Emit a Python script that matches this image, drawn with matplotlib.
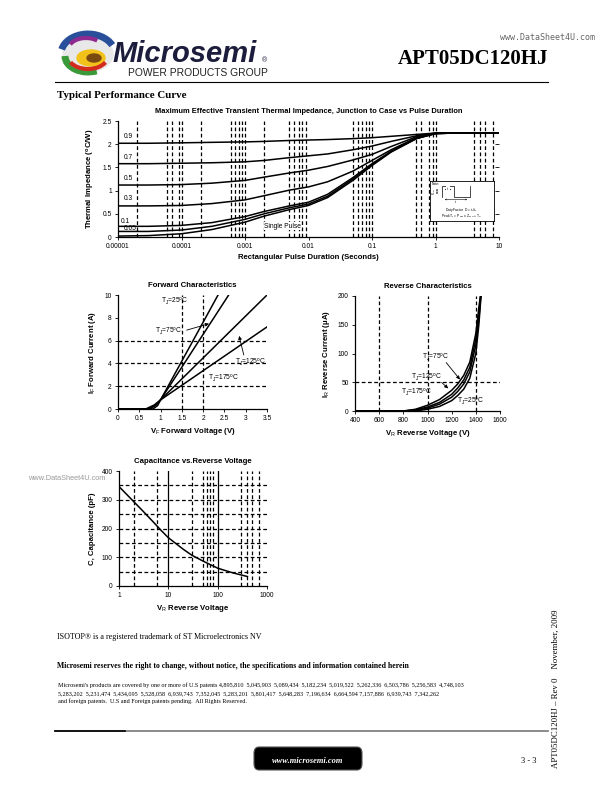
import numpy as np
import matplotlib
matplotlib.use("Agg")
import matplotlib.pyplot as plt
from matplotlib.patches import Arc, FancyBboxPatch, Ellipse

plt.rcParams['font.family'] = ['Liberation Sans', 'DejaVu Sans']
plt.rcParams['mathtext.fontset'] = 'custom'
plt.rcParams['mathtext.rm'] = 'Liberation Sans'
plt.rcParams['mathtext.it'] = 'Liberation Sans'
plt.rcParams['mathtext.bf'] = 'Liberation Sans:bold'

# ---- transient thermal impedance data ----
pulse_t = [1e-5, 3e-5, 1e-4, 3e-4, 1e-3, 2e-3, 5e-3, 1e-2, 2e-2, 5e-2, 0.1, 0.2, 0.5, 1, 2, 10]
zth = {
    "0.9":  [2.02, 2.02, 2.03, 2.04, 2.05, 2.06, 2.08, 2.09, 2.10, 2.12, 2.14, 2.17, 2.21, 2.24, 2.24, 2.24],
    "0.7":  [1.58, 1.58, 1.59, 1.60, 1.62, 1.65, 1.71, 1.75, 1.79, 1.88, 1.96, 2.06, 2.18, 2.24, 2.24, 2.24],
    "0.5":  [1.12, 1.12, 1.13, 1.16, 1.22, 1.29, 1.38, 1.44, 1.52, 1.66, 1.78, 1.95, 2.16, 2.24, 2.24, 2.24],
    "0.3":  [0.67, 0.67, 0.68, 0.72, 0.80, 0.89, 1.01, 1.08, 1.19, 1.42, 1.65, 1.88, 2.14, 2.23, 2.24, 2.24],
    "0.1":  [0.23, 0.23, 0.25, 0.31, 0.44, 0.55, 0.67, 0.75, 0.92, 1.28, 1.58, 1.85, 2.13, 2.23, 2.24, 2.24],
    "0.05": [0.12, 0.12, 0.15, 0.23, 0.38, 0.50, 0.63, 0.71, 0.88, 1.25, 1.56, 1.84, 2.12, 2.23, 2.24, 2.24],
    "single": [0.02, 0.03, 0.07, 0.16, 0.32, 0.45, 0.59, 0.68, 0.85, 1.22, 1.54, 1.83, 2.12, 2.23, 2.24, 2.24],
}
zth_labels = ["0.9", "0.7", "0.5", "0.3", "0.1", "0.05"]
zth_label_y = [2.16, 1.72, 1.26, 0.82, 0.33, 0.19]
zth_grid = [2e-5, 6e-5, 7e-5, 9e-5, 1e-4, 2e-4, 6e-4, 7e-4, 8e-4, 9e-4, 1e-3, 2e-3,
            5e-3, 6e-3, 7e-3, 8e-3, 9e-3, 0.05, 0.06, 0.07, 0.08, 0.09, 0.1,
            0.5, 0.6, 0.8, 0.9, 1, 4, 5, 6, 8]
zth_xticks = [1e-5, 1e-4, 1e-3, 1e-2, 1e-1, 1, 10]
zth_xticklabels = ["0.00001", "0.0001", "0.001", "0.01", "0.1", "1", "10"]

# ---- forward characteristics ----
vf = {
    "25":  [0, 0.82, 0.93, 1.0, 2.35],
    "75":  [0, 0.75, 0.90, 1.0, 2.60],
    "125": [0, 0.70, 0.88, 1.0, 3.50],
    "175": [0, 0.65, 0.85, 1.0, 3.50],
}
i_f = {
    "25":  [0, 0, 0.30, 0.8, 10],
    "75":  [0, 0, 0.35, 0.8, 10],
    "125": [0, 0, 0.35, 0.8, 10],
    "175": [0, 0, 0.35, 0.8, 7.2],
}

# ---- reverse characteristics ----
vr = [400, 800, 900, 1000, 1100, 1200, 1250, 1300, 1350, 1400, 1425, 1450]
ir = {
    "175": [0, 0, 3, 10, 20, 36, 47, 62, 85, 135, 180, 220],
    "125": [0, 0, 2, 7, 15, 29, 40, 54, 76, 125, 170, 220],
    "75":  [0, 0, 1, 5, 12, 24, 34, 47, 68, 115, 160, 220],
    "25":  [0, 0, 0, 3, 8, 18, 27, 38, 57, 100, 150, 220],
}

# ---- capacitance ----
cap_v = [1, 2, 3, 5, 7, 10, 20, 30, 50, 100, 200, 400]
cap_c = [346, 293, 262, 222, 195, 168, 128, 107, 87, 62, 46, 33]
cap_grid = [2, 6, 30, 50, 60, 70, 80, 300, 400, 500, 700]

W, H = 612, 792
fig = plt.figure(figsize=(6.12, 7.92), dpi=100)


def box(l, t, r, b):
    return [l / W, 1 - b / H, (r - l) / W, (b - t) / H]


def ftext(x, y, s, **kw):
    return fig.text(x / W, 1 - y / H, s, **kw)


DASH = (0, (3, 2))
TICK = 4.8
LAB = 5.6


def style(ax):
    ax.spines['top'].set_visible(False)
    ax.spines['right'].set_visible(False)
    ax.tick_params(labelsize=TICK, length=2.5, width=0.6, pad=2)
    for s in ('left', 'bottom'):
        ax.spines[s].set_linewidth(0.9)


# ---------------- header ----------------
lg = fig.add_axes(box(58, 28, 118, 80))
lg.set_xlim(0, 60)
lg.set_ylim(0, 52)
lg.axis('off')
lg.add_patch(Ellipse((30, 26), 50, 36, color='#e8e8e8'))
lg.add_patch(Arc((30, 26), 54, 40, theta1=20, theta2=170, lw=5, color='#2a4f9a'))
lg.add_patch(Arc((30, 24), 46, 32, theta1=180, theta2=300, lw=5, color='#3a9a3a'))
lg.add_patch(Ellipse((33, 22), 28, 16, color='#f2c21a'))
lg.add_patch(Arc((30, 24), 40, 26, theta1=200, theta2=340, lw=3, color='#d42a1e'))
lg.add_patch(Arc((28, 30), 36, 24, theta1=40, theta2=160, lw=3, color='#8e2a90'))
lg.add_patch(Ellipse((36, 22), 14, 8, color='#7a4a10'))

ftext(112, 62, "Microsemi", fontsize=21, fontweight='bold', fontstyle='italic',
      color='#1c1c3c', va='baseline')
ftext(262, 62, "®", fontsize=5, color='#1c1c3c', va='baseline')
ftext(128, 76, "POWER PRODUCTS GROUP", fontsize=7.4, color='#222222', va='baseline')
ftext(595, 40, "www.DataSheet4U.com", fontsize=6, color='#666666', ha='right',
      va='baseline', family='DejaVu Sans Mono')
ftext(548, 64, "APT05DC120HJ", fontsize=15, fontweight='bold', family='Liberation Serif',
      ha='right', va='baseline')
fig.add_artist(plt.Line2D([55 / W, 548 / W], [1 - 82 / H] * 2, color='black', lw=0.8))
ftext(57, 98, "Typical Performance Curve", fontsize=7.8, fontweight='bold',
      family='Liberation Serif', va='baseline')

# ---------------- transient thermal impedance ----------------
ax = fig.add_axes(box(118, 121, 499, 237))
for g in zth_grid:
    ax.axvline(g, color='black', lw=0.9, ls=DASH, zorder=1)
for k in zth:
    ax.plot(pulse_t, zth[k], color='black', lw=1.1, zorder=3)
ax.set_xscale('log')
ax.set_xlim(1e-5, 10)
ax.set_ylim(0, 2.5)
ax.set_xticks(zth_xticks)
ax.set_xticklabels(zth_xticklabels)
ax.minorticks_off()
ax.set_yticks([0, 0.5, 1, 1.5, 2, 2.5])
ax.set_yticklabels(["0", "0.5", "1", "1.5", "2", "2.5"])
style(ax)
sec = ax.secondary_yaxis('right')
sec.set_yticks([0.5, 1, 1.5, 2])
sec.tick_params(direction='in', length=3, width=0.6, labelright=False)
sec.spines['right'].set_visible(False)
for lab, yy in zip(zth_labels, zth_label_y):
    ax.text(1.25e-5 if lab != "0.1" else 1.1e-5, yy, lab, fontsize=TICK, va='center', zorder=4)
ax.text(2.0e-3, 0.23, "Single Pulse", fontsize=TICK, va='center', zorder=4,
        bbox=dict(fc='white', ec='none', pad=0.3))
ax.set_title("Maximum Effective Transient Thermal Impedance, Junction to Case vs Pulse Duration",
             fontsize=5.4, fontweight='bold', pad=6)
ax.set_xlabel("Rectangular Pulse Duration (Seconds)", fontsize=LAB, fontweight='bold', labelpad=3)
ax.set_ylabel("Thermal Impedance ($\\mathbf{^oC/W}$)", fontsize=LAB, fontweight='bold', labelpad=4)

# note inset
nx = fig.add_axes(box(430, 181, 494, 221))
nx.set_xlim(0, 64)
nx.set_ylim(40, 0)
nx.set_xticks([])
nx.set_yticks([])
for s in nx.spines.values():
    s.set_linewidth(0.6)
nx.text(2, 3.2, "Note:", fontsize=2.4, va='center')
nx.plot([12, 12, 24, 24, 40, 40], [16, 5, 5, 16, 16, 5], color='black', lw=0.5)
nx.annotate("", xy=(7, 5), xytext=(7, 16), arrowprops=dict(arrowstyle='<->', lw=0.4, mutation_scale=2))
nx.text(4, 10.5, "P$_{DM}$", fontsize=2.1, rotation=90, va='center', ha='center')
nx.annotate("", xy=(12, 8.5), xytext=(24, 8.5), arrowprops=dict(arrowstyle='<->', lw=0.4, mutation_scale=2))
nx.text(18, 8.2, "t$_1$", fontsize=2.2, ha='center', va='center', bbox=dict(fc='white', ec='none', pad=0))
nx.annotate("", xy=(12, 18.5), xytext=(40, 18.5), arrowprops=dict(arrowstyle='<->', lw=0.4, mutation_scale=2))
nx.text(26, 21, "t$_2$", fontsize=2.2, ha='center', va='center')
nx.text(32, 28.5, "Duty Factor  D = t$_1$/t$_2$", fontsize=2.4, ha='center', va='center')
nx.text(32, 35.5, "Peak T$_J$ = P$_{DM}$ x Z$_{\\theta JC}$ + T$_C$", fontsize=2.4, ha='center', va='center')

# ---------------- forward characteristics ----------------
ax = fig.add_axes(box(118, 295, 267, 409))
for x in (1.5, 2.0):
    ax.axvline(x, color='black', lw=0.9, ls=DASH, zorder=1)
for y in (2, 4, 6):
    ax.axhline(y, color='black', lw=0.9, ls=DASH, zorder=1)
for k in vf:
    ax.plot(vf[k], i_f[k], color='black', lw=1.1, zorder=3)
ax.set_xlim(0, 3.5)
ax.set_ylim(0, 10)
ax.set_xticks([0, 0.5, 1, 1.5, 2, 2.5, 3, 3.5])
ax.set_xticklabels(["0", "0.5", "1", "1.5", "2", "2.5", "3", "3.5"])
ax.set_yticks([0, 2, 4, 6, 8, 10])
style(ax)
tk = dict(fontsize=TICK, va='center', zorder=4)
ax.text(1.0, 9.4, "T$_J$=25$^o$C", **tk)
ax.text(0.88, 6.85, "T$_J$=75$^o$C", **tk)
ax.text(2.74, 4.1, "T$_J$=125$^o$C", **tk)
ax.text(2.12, 2.7, "T$_J$=175$^o$C", **tk)
ap = dict(arrowstyle='-|>', lw=0.6, color='black', mutation_scale=5)
ax.annotate("", xy=(2.2, 7.55), xytext=(1.55, 6.85), arrowprops=ap)
ax.annotate("", xy=(2.83, 6.65), xytext=(2.97, 4.5), arrowprops=ap)
ax.set_title("Forward Characteristics", fontsize=5.6, fontweight='bold', pad=6)
ax.set_xlabel("V$_F$ Forward Voltage (V)", fontsize=LAB, fontweight='bold', labelpad=3)
ax.set_ylabel("I$_F$ Forward Current (A)", fontsize=LAB, fontweight='bold', labelpad=5)

# ---------------- reverse characteristics ----------------
ax = fig.add_axes(box(355, 296, 500, 411))
for x in (600, 1000, 1400):
    ax.axvline(x, color='black', lw=0.9, ls=DASH, zorder=1)
ax.axhline(50, color='black', lw=0.9, ls=DASH, zorder=1)
for k in ir:
    ax.plot(vr, ir[k], color='black', lw=1.1, zorder=3)
ax.set_xlim(400, 1600)
ax.set_ylim(0, 200)
ax.set_xticks([400, 600, 800, 1000, 1200, 1400, 1600])
ax.set_yticks([0, 50, 100, 150, 200])
style(ax)
ax.text(952, 94, "T$_J$=75$^o$C", **tk)
ax.text(863, 58, "T$_J$=125$^o$C", **tk)
ax.text(778, 32, "T$_J$=175$^o$C", **tk)
ax.text(1241, 16, "T$_J$=25$^o$C", **tk)
ax.annotate("", xy=(1283, 51), xytext=(1140, 88), arrowprops=ap)
ax.annotate("", xy=(1188, 36), xytext=(1100, 53), arrowprops=ap)
ax.set_title("Reverse Characteristics", fontsize=5.6, fontweight='bold', pad=6)
ax.set_xlabel("V$_R$ Reverse Voltage (V)", fontsize=LAB, fontweight='bold', labelpad=3)
ax.set_ylabel("I$_R$ Reverse Current ($\\mathbf{\\mu}$A)", fontsize=LAB, fontweight='bold', labelpad=4)

# ---------------- capacitance ----------------
ax = fig.add_axes(box(119, 471, 267, 586))
for g in cap_grid:
    ax.axvline(g, color='black', lw=0.9, ls=DASH, zorder=1)
for g in (10, 100):
    ax.axvline(g, color='black', lw=0.9, zorder=1)
for y in (50, 100, 150, 200, 250, 300, 350):
    ax.axhline(y, color='black', lw=0.9, ls=DASH, zorder=1)
ax.plot(cap_v, cap_c, color='black', lw=1.1, zorder=3)
ax.set_xscale('log')
ax.set_xlim(1, 1000)
ax.set_ylim(0, 400)
ax.set_xticks([1, 10, 100, 1000])
ax.set_xticklabels(["1", "10", "100", "1000"])
ax.minorticks_off()
ax.set_yticks([0, 100, 200, 300, 400])
style(ax)
ax.set_title("Capacitance vs.Reverse Voltage", fontsize=5.6, fontweight='bold', pad=6)
ax.set_xlabel("V$_R$ Reverse Voltage", fontsize=LAB, fontweight='bold', labelpad=3)
ax.set_ylabel("C, Capacitance (pF)", fontsize=LAB, fontweight='bold', labelpad=4)
ftext(28, 480, "www.DataSheet4U.com", fontsize=5.3, color='#999999', va='baseline')

# ---------------- footer ----------------
serif = 'Liberation Serif'
ftext(57, 639, "ISOTOP® is a registered trademark of ST Microelectronics NV",
      fontsize=5.8, family=serif, va='baseline')
ftext(57, 668, "Microsemi reserves the right to change, without notice, the specifications and information contained herein",
      fontsize=5.6, fontweight='bold', family=serif, va='baseline')
patents = [
    "Microsemi's products are covered by one or more of U.S patents 4,895,810  5,045,903  5,089,434  5,182,234  5,019,522  5,262,336  6,503,786  5,256,583  4,748,103",
    "5,283,202  5,231,474  5,434,095  5,528,058  6,939,743  7,352,045  5,283,201  5,801,417  5,648,283  7,196,634  6,664,594 7,157,886  6,939,743  7,342,262",
    "and foreign patents.  U.S and Foreign patents pending.  All Rights Reserved.",
]
for i, line in enumerate(patents):
    ftext(58, 687 + i * 8, line, fontsize=4.4, family=serif, va='baseline')
fig.add_artist(plt.Line2D([55 / W, 548 / W], [1 - 731 / H] * 2, color='#777777', lw=1.2))
fig.add_artist(plt.Line2D([55 / W, 125 / W], [1 - 731 / H] * 2, color='black', lw=1.2))
fig.add_artist(FancyBboxPatch((254 / W, 1 - 770 / H), 108 / W, 23 / H,
                              boxstyle="round,pad=0,rounding_size=0.008",
                              transform=fig.transFigure, fc='black', ec='#555555', lw=0.8))
ftext(308, 761, "www.microsemi.com", fontsize=6, fontweight='bold', fontstyle='italic',
      family=serif, color='white', ha='center', va='center')
ftext(521, 761, "3 - 3", fontsize=6, family=serif, va='center')
ftext(556, 768, "APT05DC120HJ \u2013 Rev 0    November, 2009", fontsize=6.3, family=serif,
      rotation=90, ha='center', va='bottom')

fig.savefig("out.png", dpi=100)
